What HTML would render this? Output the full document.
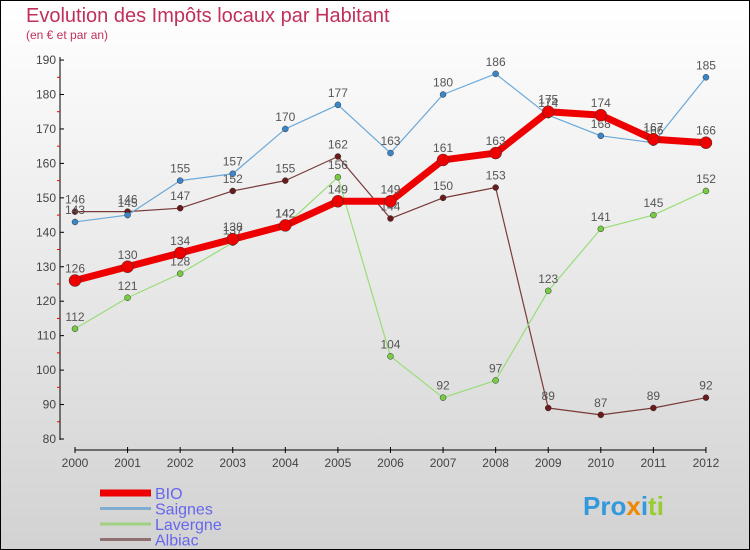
<!DOCTYPE html>
<html><head><meta charset="utf-8"><style>
body{margin:0}
#c{width:750px;height:550px;position:relative;box-sizing:border-box;border:1px solid #000;background:linear-gradient(#ffffff,#d2d2d2);font-family:"Liberation Sans",sans-serif;overflow:hidden}
</style></head><body>
<div id="c">
<svg id="s" width="750" height="550" style="position:absolute;left:-1px;top:-1px">
<text x="26" y="22" font-size="20" fill="#c0305a">Evolution des Impôts locaux par Habitant</text>
<text x="26" y="39" font-size="12" fill="#c0305a">(en € et par an)</text>
</svg>
</div>
<script>
const years=["2000","2001","2002","2003","2004","2005","2006","2007","2008","2009","2010","2011","2012"];
const bio=[126,130,134,138,142,149,149,161,163,175,174,167,166];
const saignes=[143,145,155,157,170,177,163,180,186,174,168,166,185];
const lavergne=[112,121,128,137,142,156,104,92,97,123,141,145,152];
const albiac=[146,146,147,152,155,162,144,150,153,89,87,89,92];
const yTicks=[80,90,100,110,120,130,140,150,160,170,180,190];
const NS="http://www.w3.org/2000/svg";
const svg=document.getElementById('s');
const X=i=>75+i*52.58;
const Y=v=>439-(v-80)*3.445;
function mk(t,a,p){const e=document.createElementNS(NS,t);for(const k in a)e.setAttribute(k,a[k]);(p||svg).appendChild(e);return e;}
// axes
let ya=mk('line',{x1:60,y1:57,x2:60,y2:440,stroke:'#000'});


let xa=mk('line',{x1:75,y1:450,x2:706,y2:450,stroke:'#000'});


yTicks.forEach(v=>{
 mk('line',{x1:60,y1:Y(v),x2:64,y2:Y(v),stroke:'#000'});
 if(v<190) mk('line',{x1:57,y1:Y(v+5),x2:60,y2:Y(v+5),stroke:'#e00'});
 let t=mk('text',{x:56,y:Y(v)+4,'font-size':12,'text-anchor':'end',fill:'#444'});
 t.textContent=v;
 
 
});
years.forEach((y,i)=>{
 mk('line',{x1:X(i),y1:447,x2:X(i),y2:453,stroke:'#000'});
 let t=mk('text',{x:X(i),y:467,'font-size':12,'text-anchor':'middle',fill:'#444'});
 t.textContent=y;
 
 
});
function series(name,data,color,w,r,dot,labelColor){
 const g=mk('g',{});
 
 
 mk('polyline',{points:data.map((v,i)=>X(i)+','+Y(v)).join(' '),fill:'none',stroke:color,'stroke-width':w,'stroke-linejoin':'round'},g);
 data.forEach((v,i)=>{
  let c=mk('circle',{cx:X(i),cy:Y(v),r:r,fill:dot,stroke:'#333','stroke-width':0.5},g);
  
  
  let t=mk('text',{x:X(i),y:Y(v)-8,'font-size':12,'text-anchor':'middle',fill:'#555'},g);
  t.textContent=v;
  
  
 });
}
series('albiac',albiac,'#7a3a3a',1.2,3,'#6a1a1a');
series('lavergne',lavergne,'#99dd77',1.2,3,'#77cc44');
series('saignes',saignes,'#6aa8d8',1.2,3,'#3a86c8');
series('bio',bio,'#ee0000',7,6,'#ee0000');
// legend
const leg=[['BIO','#ee0000',7],['Saignes','#80acd0',3],['Lavergne','#a0d080',3],['Albiac','#907070',3]];
leg.forEach((l,i)=>{
 const yy=493+i*15.5;
 mk('line',{x1:100,y1:yy,x2:151,y2:yy,stroke:l[1],'stroke-width':l[2]});
 let t=mk('text',{x:155,y:yy+6,'font-size':16,fill:'#6666ee'});
 t.textContent=l[0];
 
 
});
let p=mk('text',{x:583,y:515,'font-size':26,'font-weight':'bold',fill:'#3399dd'});
p.innerHTML='<tspan fill="#3399dd">Pro</tspan><tspan fill="#ee8800">x</tspan><tspan fill="#3399dd">i</tspan><tspan fill="#99cc33">ti</tspan>';


</script>
</body></html>
